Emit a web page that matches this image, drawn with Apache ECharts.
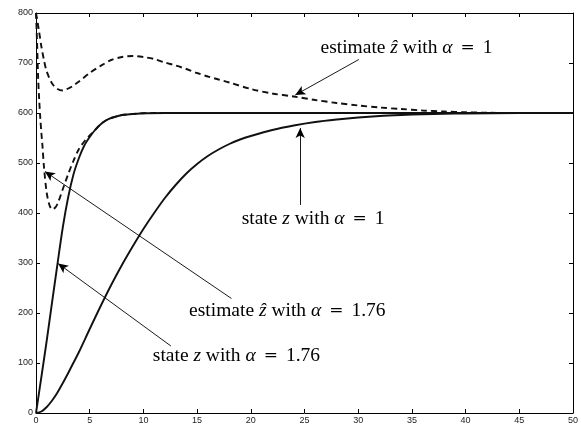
<!DOCTYPE html>
<html>
<head>
<meta charset="utf-8">
<script src="https://cdn.jsdelivr.net/npm/echarts@6/dist/echarts.min.js"></script>
<style>
  html, body { margin: 0; padding: 0; background: #fff; }
  #chart { width: 581px; height: 426px; }
</style>
</head>
<body>
<div id="chart"></div>
<script>
// Axis ticks
const xTicks = [0, 5, 10, 15, 20, 25, 30, 35, 40, 45, 50];
const yTicks = [0, 100, 200, 300, 400, 500, 600, 700, 800];

// state z with alpha = 1.76
const tStateFast = [0, 0.5, 1, 1.5, 2, 2.5, 3, 3.5, 4, 4.5, 5, 5.5, 6, 6.5, 7, 8, 9, 10, 12, 15, 20, 30, 40, 50];
const vStateFast = [0, 72, 145, 222, 298, 372, 432, 478, 510, 535, 552, 566, 577, 585, 590, 596, 598, 599.5, 600, 600, 600, 600, 600, 600];

// estimate z-hat with alpha = 1.76
const tEstFast = [0, 0.1, 0.2, 0.3, 0.4, 0.5, 0.6, 0.75, 1, 1.25, 1.5, 1.75, 2, 2.5, 3, 3.5, 4, 4.5, 5, 5.5, 6, 6.5, 7, 8, 9, 10, 12, 15, 20, 30, 40, 50];
const vEstFast = [800, 740, 670, 625, 590, 560, 535, 490, 440, 416, 407, 410, 418, 448, 478, 505, 528, 543, 555, 566, 577, 585, 590, 596, 598, 599.5, 600, 600, 600, 600, 600, 600];

// state z with alpha = 1
const tStateSlow = [0, 0.5, 1, 1.5, 2, 2.5, 3, 3.5, 4, 5, 6, 7, 8, 9, 10, 11, 12, 13, 14, 15, 16, 17, 18, 19, 20, 22, 24, 26, 28, 30, 32, 34, 36, 38, 40, 45, 50];
const vStateSlow = [0, 3, 12, 25, 41, 60, 80, 101, 122, 168, 213, 256, 296, 333, 368, 400, 430, 456, 479, 498, 514, 527, 538, 547, 554, 566, 575, 582, 587, 591, 594, 596, 597.5, 598.5, 599, 600, 600];

// estimate z-hat with alpha = 1
const tEstSlow = [0, 0.25, 0.5, 0.75, 1, 1.5, 2, 2.5, 3, 3.5, 4, 5, 6, 7, 8, 9, 10, 11, 12, 13, 14, 15, 16, 17, 18, 20, 22, 24, 26, 28, 30, 32, 34, 36, 38, 40, 42, 45, 50];
const vEstSlow = [800, 768, 733, 705, 683, 659, 648, 645, 649, 655, 663, 680, 694, 706, 712, 714, 712, 708, 701, 695, 688, 680, 673, 667, 661, 648, 639, 633, 626, 620, 615, 611, 608, 605, 603, 601.5, 600.5, 600, 600];

// Annotation texts, where they sit, and the arrows pointing to the curves (data coordinates)
const notes = [
  { parts: [['n', 'estimate '], ['i', 'z\u0302'], ['n', ' with '], ['i', '\u03b1'], ['eq', '='], ['n', '1']],
    at: [34.5, 730], from: [30.06, 707], to: [24.14, 636] },
  { parts: [['n', 'state '], ['i', 'z'], ['n', ' with '], ['i', '\u03b1'], ['eq', '='], ['n', '1']],
    at: [25.8, 388], from: [24.6, 416], to: [24.6, 570] },
  { parts: [['n', 'estimate '], ['i', 'z\u0302'], ['n', ' with '], ['i', '\u03b1'], ['eq', '='], ['n', '1.76']],
    at: [23.4, 204], from: [18.2, 229], to: [0.83, 483] },
  { parts: [['n', 'state '], ['i', 'z'], ['n', ' with '], ['i', '\u03b1'], ['eq', '='], ['n', '1.76']],
    at: [18.66, 114], from: [12.56, 134], to: [2.06, 299] }
];

const pairs = (t, v) => t.map((x, i) => [x, v[i]]);

const ink = '#111';
const axisText = { fontSize: 9, color: '#222', fontFamily: 'Liberation Sans, Arial, sans-serif' };

function makeX(pos, showLabel) {
  return {
    type: 'value', position: pos, min: xTicks[0], max: xTicks[xTicks.length - 1], interval: 5,
    axisLine: { show: true, onZero: false, lineStyle: { color: '#000', width: 1 } },
    axisTick: { show: true, inside: true, length: 4, lineStyle: { color: '#000' } },
    axisLabel: Object.assign({ show: showLabel, margin: 3 }, axisText),
    splitLine: { show: false }
  };
}
function makeY(pos, showLabel) {
  return {
    type: 'value', position: pos, min: yTicks[0], max: yTicks[yTicks.length - 1], interval: 100,
    axisLine: { show: true, onZero: false, lineStyle: { color: '#000', width: 1 } },
    axisTick: { show: true, inside: true, length: 4, lineStyle: { color: '#000' } },
    axisLabel: Object.assign({ show: showLabel, margin: 3 }, axisText),
    splitLine: { show: false }
  };
}

function curve(name, data, dashed) {
  return {
    name, type: 'line', data, showSymbol: false, symbol: 'none',
    smooth: 0.3,
    lineStyle: { color: ink, width: 1.9, type: dashed ? [6, 4] : 'solid' },
    z: dashed ? 3 : 2, animation: false
  };
}

const chart = echarts.init(document.getElementById('chart'), null, { renderer: 'canvas' });

chart.setOption({
  backgroundColor: '#fff',
  animation: false,
  grid: { left: 36, right: 5, top: 13, bottom: 13, containLabel: false },
  xAxis: [makeX('bottom', true), makeX('top', false)],
  yAxis: [makeY('left', true), makeY('right', false)],
  series: [
    curve('state z, alpha 1.76', pairs(tStateFast, vStateFast), false),
    curve('estimate z-hat, alpha 1.76', pairs(tEstFast, vEstFast), true),
    curve('state z, alpha 1', pairs(tStateSlow, vStateSlow), false),
    curve('estimate z-hat, alpha 1', pairs(tEstSlow, vEstSlow), true),
    {
      type: 'line', data: [], silent: true, animation: false,
      markLine: {
        silent: true, animation: false,
        symbol: ['none', 'arrow'], symbolSize: [7, 10],
        label: { show: false },
        lineStyle: { color: '#000', width: 0.9, type: 'solid' },
        data: notes.map(n => [{ coord: n.from }, { coord: n.to }])
      }
    }
  ]
});

// Place the annotation texts in data space
const serif = 'Liberation Serif, Times New Roman, serif';
chart.setOption({
  graphic: notes.map(n => {
    const p = chart.convertToPixel({ gridIndex: 0 }, n.at);
    return {
      type: 'text', x: p[0], y: p[1], z: 10,
      style: {
        text: n.parts.map(([k, s]) => '{' + k + '|' + s + '}').join(''),
        align: 'center', verticalAlign: 'middle',
        rich: {
          n: { fontFamily: serif, fontSize: 19.5, color: '#222' },
          i: { fontFamily: serif, fontSize: 19.5, fontStyle: 'italic', color: '#222' },
          eq: { fontFamily: 'DejaVu Serif, serif', fontSize: 17, color: '#222', padding: [0, 8, 0, 8] }
        }
      }
    };
  })
});
</script>
</body>
</html>
